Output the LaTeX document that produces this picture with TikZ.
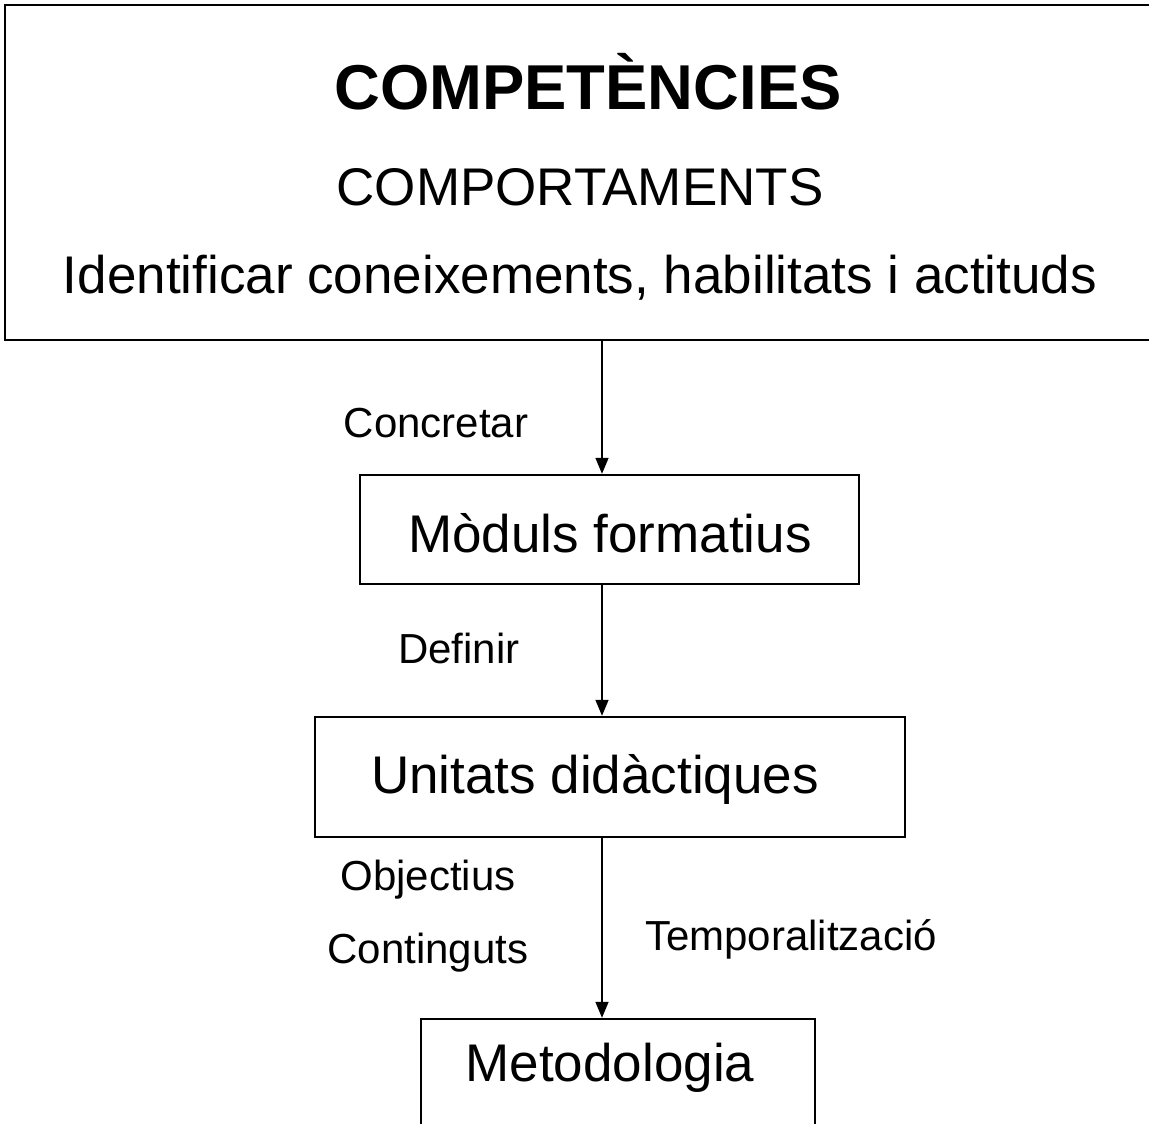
\documentclass[tikz,border=0pt]{standalone}
\usepackage{fontspec}
\setmainfont{Liberation Sans}
\usetikzlibrary{arrows.meta}
\tikzset{
  boxstyle/.style={draw=black, line width=2.4pt, rectangle, inner sep=0pt},
  bigtxt/.style={anchor=base, inner sep=0pt, font=\fontsize{53}{60}\selectfont},
  titletxt/.style={anchor=base, inner sep=0pt, font=\fontsize{63.4}{70}\selectfont\bfseries},
  smalltxt/.style={anchor=base, inner sep=0pt, font=\fontsize{42}{48}\selectfont},
  arr/.style={draw=black, line width=1.5pt, -{Triangle[length=16pt,width=13pt]}}
}
\begin{document}
\begin{tikzpicture}[x=1pt,y=-1pt]
\useasboundingbox (0,0) rectangle (1149,1124);
\clip (0,0) rectangle (1149,1124);
\fill[white] (0,0) rectangle (1149,1124);

% boxes
\node[boxstyle, minimum width=1160pt, minimum height=335pt] (top) at (585,172.5) {};
\node[boxstyle, minimum width=499pt, minimum height=109pt] (mod) at (609.5,529.5) {};
\node[boxstyle, minimum width=590pt, minimum height=120pt] (uni) at (610,777) {};
\node[boxstyle, minimum width=394pt, minimum height=160pt] (met) at (618,1099) {};

% texts
\node[titletxt] (t1) at (588,110) {COMPETÈNCIES};
\node[bigtxt] (t2) at (580,205) {COMPORTAMENTS};
\node[bigtxt] (t3) at (580,293) {Identificar coneixements, habilitats i actituds};
\node[bigtxt] (tmod) at (610,552) {Mòduls formatius};
\node[bigtxt] (tuni) at (595,793) {Unitats didàctiques};
\node[bigtxt] (tmet) at (610,1081) {Metodologia};

\node[smalltxt] (l1) at (436,437) {Concretar};
\node[smalltxt] (l2) at (459,663) {Definir};
\node[smalltxt] (l3) at (428,890) {Objectius};
\node[smalltxt] (l4) at (428,963) {Continguts};
\node[smalltxt] (l5) at (791,950) {Temporalització};

% arrows
\coordinate (ax) at (602,0);
\draw[arr] (top.south -| ax) -- (mod.north -| ax);
\draw[arr] (mod.south -| ax) -- (uni.north -| ax);
\draw[arr] (uni.south -| ax) -- (met.north -| ax);
\end{tikzpicture}
\end{document}
